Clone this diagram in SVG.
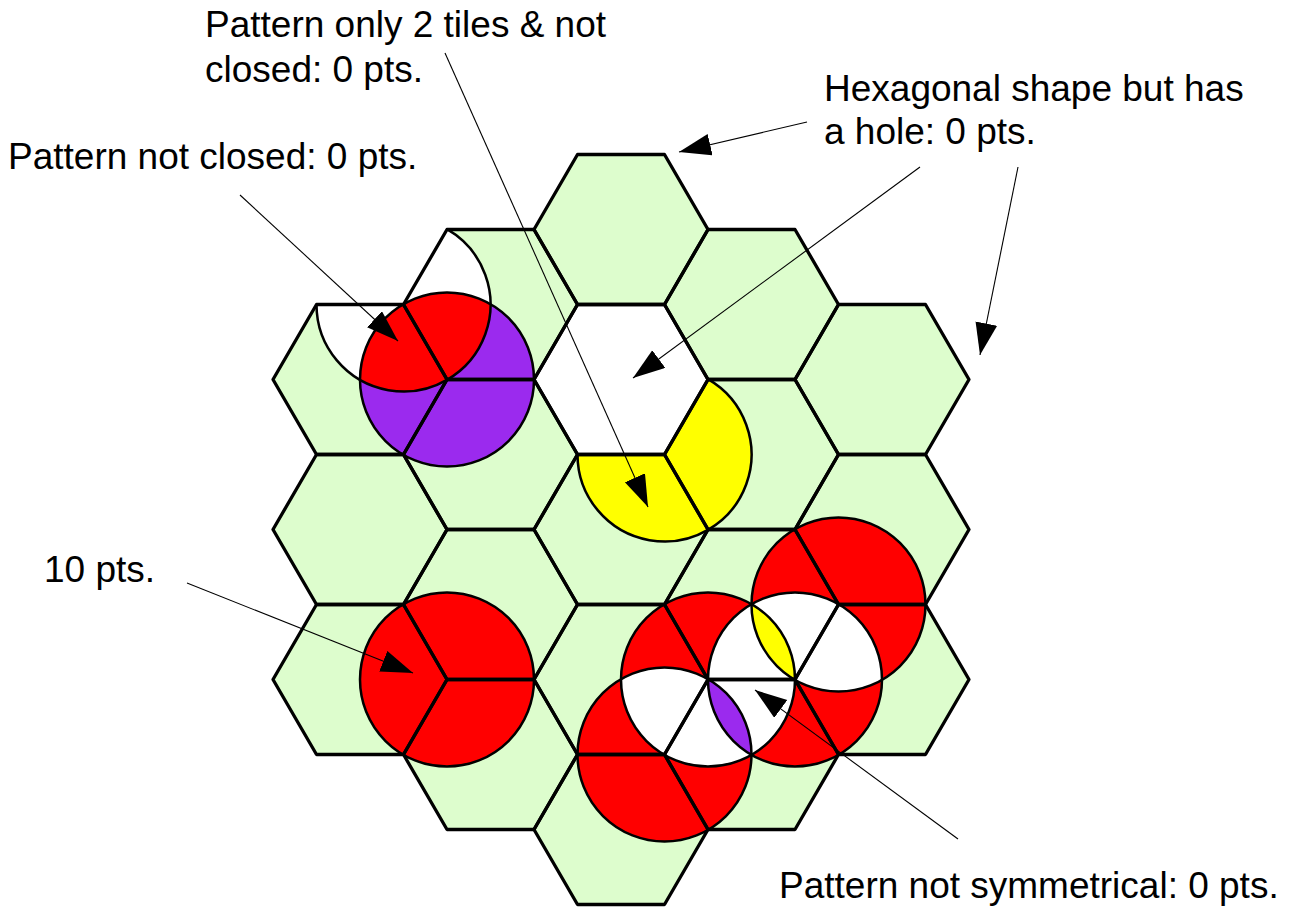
<svg xmlns="http://www.w3.org/2000/svg" xmlns:xlink="http://www.w3.org/1999/xlink" width="1297" height="908" viewBox="0 0 1297 908">
<style>
.tile{fill:#ddfdcd;stroke:none}
.hole{fill:#ffffff;stroke:none}
.edge{fill:none;stroke:#000;stroke-width:3.3;stroke-linejoin:round}
.ol{fill:none;stroke:#000;stroke-width:2.5}
.red{fill:#ff0000}
.pur{fill:#9b2aee}
.yel{fill:#ffff00}
.wht{fill:#ffffff}
.lbl{font-family:"Liberation Sans",Arial,sans-serif;font-size:37px;fill:#000}
.con{stroke:#000;stroke-width:1.1;fill:none;marker-end:url(#ah)}
</style>
<defs>
<polygon id="hx" points="-87,0 -43.5,-75 43.5,-75 87,0 43.5,75 -43.5,75"/>
<marker id="ah" markerUnits="userSpaceOnUse" markerWidth="33" markerHeight="23" refX="32" refY="11" orient="auto" viewBox="0 0 33 23">
<path d="M0,0 L32,11 L0,22 Z" fill="#000"/>
</marker>
<clipPath id="cW"><circle cx="403.5" cy="304.5" r="87"/></clipPath>
<clipPath id="cD"><circle cx="708" cy="679.5" r="87"/></clipPath>
<clipPath id="cE"><circle cx="664.5" cy="754.5" r="87"/></clipPath>
<clipPath id="cF"><circle cx="795" cy="679.5" r="87"/></clipPath>
<clipPath id="cG"><circle cx="838.5" cy="604.5" r="87"/></clipPath>
</defs>
<rect width="1297" height="908" fill="#fff"/>
<g id="tiles">
<g id="t-2a"><use xlink:href="#hx" x="360" y="379.5" class="tile"/></g>
<g id="t-2b"><use xlink:href="#hx" x="360" y="529.5" class="tile"/></g>
<g id="t-2c"><use xlink:href="#hx" x="360" y="679.5" class="tile"/></g>
<g id="t-1a"><use xlink:href="#hx" x="490.5" y="304.5" class="tile"/></g>
<g id="t-1b"><use xlink:href="#hx" x="490.5" y="454.5" class="tile"/></g>
<g id="t-1c"><use xlink:href="#hx" x="490.5" y="604.5" class="tile"/></g>
<g id="t-1d"><use xlink:href="#hx" x="490.5" y="754.5" class="tile"/></g>
<g id="t0a"><use xlink:href="#hx" x="621" y="229.5" class="tile"/></g>
<g id="t0hole"><use xlink:href="#hx" x="621" y="379.5" class="hole"/></g>
<g id="t0c"><use xlink:href="#hx" x="621" y="529.5" class="tile"/></g>
<g id="t0d"><use xlink:href="#hx" x="621" y="679.5" class="tile"/></g>
<g id="t0e"><use xlink:href="#hx" x="621" y="829.5" class="tile"/></g>
<g id="t1a"><use xlink:href="#hx" x="751.5" y="304.5" class="tile"/></g>
<g id="t1b"><use xlink:href="#hx" x="751.5" y="454.5" class="tile"/></g>
<g id="t1c"><use xlink:href="#hx" x="751.5" y="604.5" class="tile"/></g>
<g id="t1d"><use xlink:href="#hx" x="751.5" y="754.5" class="tile"/></g>
<g id="t2a"><use xlink:href="#hx" x="882" y="379.5" class="tile"/></g>
<g id="t2b"><use xlink:href="#hx" x="882" y="529.5" class="tile"/></g>
<g id="t2c"><use xlink:href="#hx" x="882" y="679.5" class="tile"/></g>
</g>
<g id="patterns">
<g id="pattern-not-closed">
<path class="wht" d="M403.5,304.5 L447,229.16 A87,87 0 1 1 316.5,304.5 Z"/>
<circle class="pur" cx="447" cy="379.5" r="87"/>
<circle class="red" cx="447" cy="379.5" r="87" clip-path="url(#cW)"/>
</g>
<g id="pattern-two-tiles">
<path class="yel" d="M664.5,454.5 L708,379.16 A87,87 0 1 1 577.5,454.5 Z"/>
</g>
<g id="pattern-ten">
<circle class="red" cx="447" cy="679.5" r="87"/>
</g>
<g id="pattern-not-symmetrical">
<circle class="red" cx="708" cy="679.5" r="87"/>
<circle class="red" cx="664.5" cy="754.5" r="87"/>
<circle class="red" cx="795" cy="679.5" r="87"/>
<circle class="red" cx="838.5" cy="604.5" r="87"/>
<circle class="wht" cx="708" cy="679.5" r="87" clip-path="url(#cE)"/>
<circle class="wht" cx="795" cy="679.5" r="87" clip-path="url(#cG)"/>
<circle class="wht" cx="708" cy="679.5" r="87" clip-path="url(#cF)"/>
<circle class="yel" cx="708" cy="679.5" r="87" clip-path="url(#cG)"/>
<circle class="pur" cx="664.5" cy="754.5" r="87" clip-path="url(#cF)"/>
</g>
</g>
<g id="grid">
<use xlink:href="#hx" x="360" y="379.5" class="edge"/>
<use xlink:href="#hx" x="360" y="529.5" class="edge"/>
<use xlink:href="#hx" x="360" y="679.5" class="edge"/>
<use xlink:href="#hx" x="490.5" y="304.5" class="edge"/>
<use xlink:href="#hx" x="490.5" y="454.5" class="edge"/>
<use xlink:href="#hx" x="490.5" y="604.5" class="edge"/>
<use xlink:href="#hx" x="490.5" y="754.5" class="edge"/>
<use xlink:href="#hx" x="621" y="229.5" class="edge"/>
<use xlink:href="#hx" x="621" y="379.5" class="edge"/>
<use xlink:href="#hx" x="621" y="529.5" class="edge"/>
<use xlink:href="#hx" x="621" y="679.5" class="edge"/>
<use xlink:href="#hx" x="621" y="829.5" class="edge"/>
<use xlink:href="#hx" x="751.5" y="304.5" class="edge"/>
<use xlink:href="#hx" x="751.5" y="454.5" class="edge"/>
<use xlink:href="#hx" x="751.5" y="604.5" class="edge"/>
<use xlink:href="#hx" x="751.5" y="754.5" class="edge"/>
<use xlink:href="#hx" x="882" y="379.5" class="edge"/>
<use xlink:href="#hx" x="882" y="529.5" class="edge"/>
<use xlink:href="#hx" x="882" y="679.5" class="edge"/>
</g>
<g id="outlines">
<path class="ol" d="M447,229.16 A87,87 0 1 1 316.5,304.5"/>
<circle class="ol" cx="447" cy="379.5" r="87"/>
<path class="ol" d="M708,379.16 A87,87 0 1 1 577.5,454.5"/>
<circle class="ol" cx="447" cy="679.5" r="87"/>
<circle class="ol" cx="708" cy="679.5" r="87"/>
<circle class="ol" cx="664.5" cy="754.5" r="87"/>
<circle class="ol" cx="795" cy="679.5" r="87"/>
<circle class="ol" cx="838.5" cy="604.5" r="87"/>
</g>
<g id="connectors">
<line class="con" x1="240" y1="195" x2="398" y2="341"/>
<line class="con" x1="445" y1="53" x2="648" y2="507"/>
<line class="con" x1="920" y1="167" x2="633" y2="378"/>
<line class="con" x1="807" y1="122" x2="679" y2="152"/>
<line class="con" x1="1018" y1="167" x2="980" y2="355"/>
<line class="con" x1="187" y1="583" x2="413" y2="673"/>
<line class="con" x1="958" y1="839" x2="755" y2="690"/>
</g>
<g id="label-two-tiles"><text class="lbl" x="205" y="37">Pattern only 2 tiles &amp; not</text><text class="lbl" x="205" y="82">closed: 0 pts.</text></g>
<g id="label-hole"><text class="lbl" x="824" y="101">Hexagonal shape but has</text><text class="lbl" x="824" y="144">a hole: 0 pts.</text></g>
<g id="label-not-closed"><text class="lbl" x="8" y="169">Pattern not closed: 0 pts.</text></g>
<g id="label-ten"><text class="lbl" x="44" y="582">10 pts.</text></g>
<g id="label-not-symmetrical"><text class="lbl" x="779" y="898">Pattern not symmetrical: 0 pts.</text></g>
</svg>
